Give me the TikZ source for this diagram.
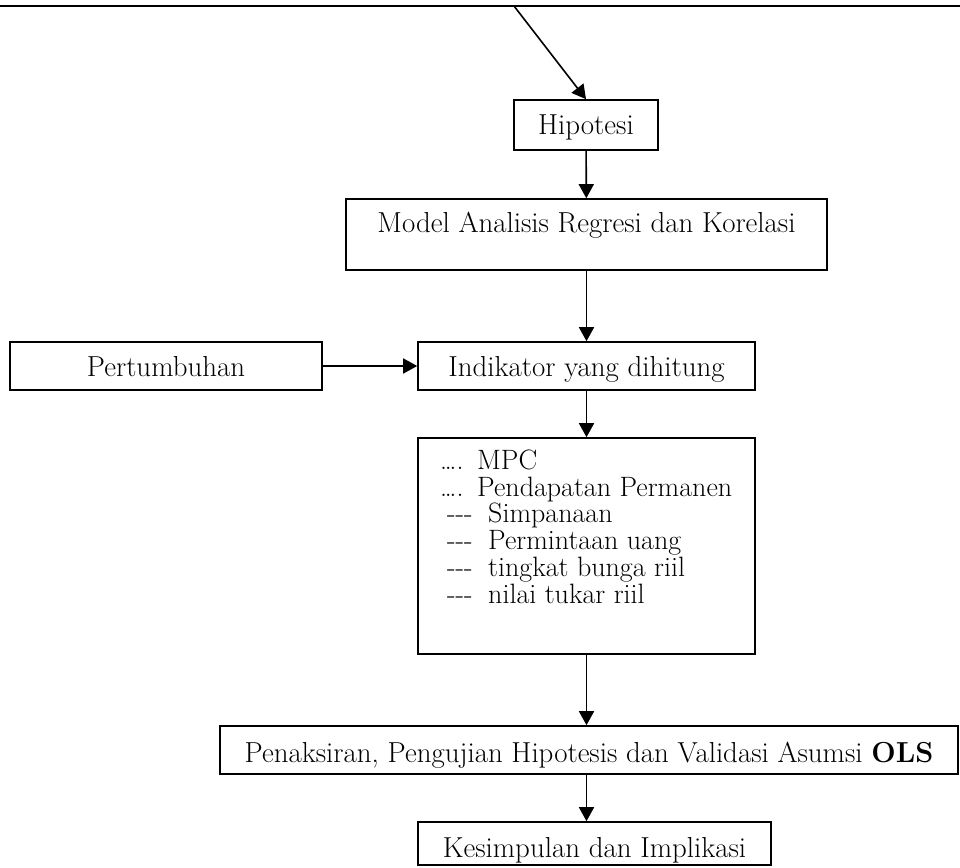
\documentclass[tikz,border=0pt]{standalone}
\usetikzlibrary{arrows.meta}
\begin{document}
\begin{tikzpicture}[x=1pt,y=-1pt,
  box/.style={draw, line width=1.6pt, inner sep=0pt, font=\fontsize{28.9}{31}\selectfont},
  arr/.style={-{Triangle[length=14pt,width=15pt]}, line width=1.6pt}]
\useasboundingbox (0,0) rectangle (960,867);
\coordinate (tl) at (0,6);
\coordinate (tr) at (960,6);
\coordinate (ds) at (514,6);
\draw[line width=2pt] (tl) -- (tr);
\node[box, minimum width=144pt, minimum height=50pt, text height=18pt, text depth=0pt] (hipo) at (586,125) {Hipotesi};
\node[box, minimum width=481pt, minimum height=71pt, text height=18pt, text depth=23pt] (model) at (586.5,234.5) {Model Analisis Regresi dan Korelasi};
\node[box, minimum width=312pt, minimum height=48pt, text height=20pt, text depth=0pt] (pert) at (166,366) {Pertumbuhan};
\node[box, minimum width=337pt, minimum height=48pt, text height=20pt, text depth=0pt] (indik) at (586.5,366) {Indikator yang dihitung};
\node[box, minimum width=337pt, minimum height=216pt] (big) at (586.5,546) {};
\node[anchor=base west, inner sep=0pt, align=left, font=\fontsize{28}{26.7}\selectfont] (bigtext) at (440,603)
  {\makebox[37pt][l]{\ldots.}MPC\\
   \makebox[37pt][l]{\ldots.}Pendapatan Permanen\\
   \makebox[48pt][l]{\hspace*{7pt}-{}-{}-}Simpanaan\\
   \makebox[48pt][l]{\hspace*{7pt}-{}-{}-}Permintaan uang\\
   \makebox[48pt][l]{\hspace*{7pt}-{}-{}-}tingkat bunga riil\\
   \makebox[48pt][l]{\hspace*{7pt}-{}-{}-}nilai tukar riil};
\node[box, minimum width=738pt, minimum height=48pt, text height=24pt, text depth=0pt] (pen) at (589,750) {Penaksiran, Pengujian Hipotesis dan Validasi Asumsi \textbf{OLS}};
\node[box, minimum width=353pt, minimum height=43pt, text height=27pt, text depth=0pt] (kes) at (594.5,843.5) {Kesimpulan dan Implikasi};
\draw[arr] (ds) -- (hipo.north);
\draw[arr] (hipo) -- (model);
\draw[arr] (model) -- (indik);
\draw[arr] (pert) -- (indik);
\draw[arr] (indik) -- (big);
\draw[arr] (big) -- (pen.north -| big);
\draw[arr] (pen.south -| big) -- (kes.north -| big);
\end{tikzpicture}
\end{document}
